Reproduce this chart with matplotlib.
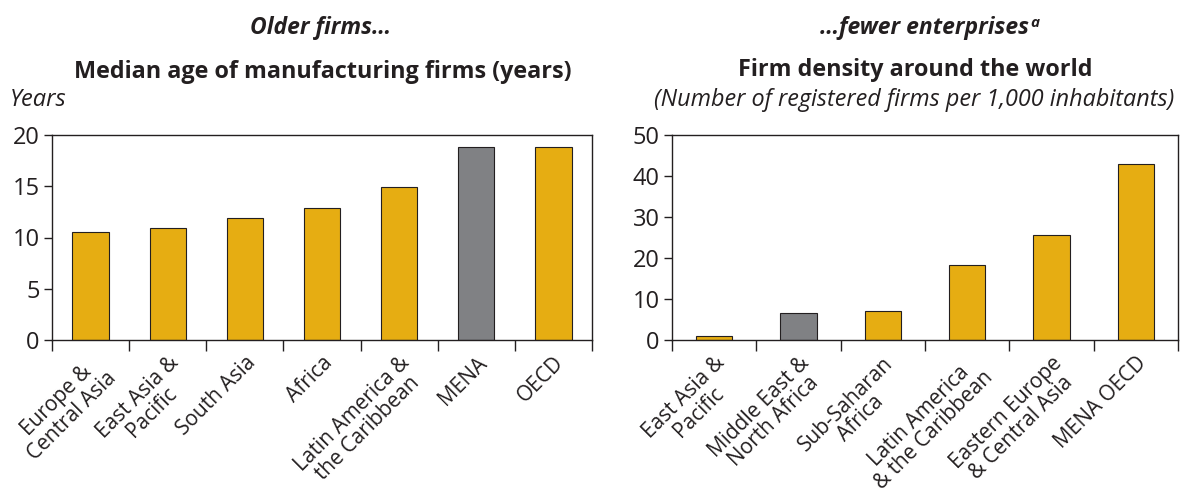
import numpy as np
import matplotlib
matplotlib.use("Agg")
import matplotlib.pyplot as plt

plt.rcParams["font.family"] = ["Open Sans", "DejaVu Sans"]

# left panel: median age of manufacturing firms
age_regions = ["Europe &\nCentral Asia", "East Asia &\nPacific", "South Asia", "Africa",
               "Latin America &\nthe Caribbean", "MENA", "OECD"]
age_years = [10.5, 10.9, 11.9, 12.9, 14.9, 18.8, 18.8]
age_highlight = [False, False, False, False, False, True, False]

# right panel: firm density
density_regions = ["East Asia &\nPacific", "Middle East &\nNorth Africa", "Sub-Saharan\nAfrica",
                   "Latin America\n& the Caribbean", "Eastern Europe\n& Central Asia", "MENA OECD"]
density_values = [1.0, 6.5, 7.0, 18.2, 25.5, 43.0]
density_highlight = [False, True, False, False, False, False]

GOLD = "#E6AD12"
GREY = "#808184"
INK = "#231F20"

W, H = 1189, 492
fig = plt.figure(figsize=(W / 100, H / 100), dpi=100)


def px_axes(x0, y0, x1, y1):
    return fig.add_axes([x0 / W, 1 - y1 / H, (x1 - x0) / W, (y1 - y0) / H])


def draw_panel(ax, labels, values, highlight, ymax, step, width):
    n = len(labels)
    x = np.arange(n)
    colors = [GREY if h else GOLD for h in highlight]
    ax.bar(x, values, width, color=colors, edgecolor=INK, linewidth=0.8, zorder=2)
    ax.set_xlim(-0.5, n - 0.5)
    ax.set_ylim(0, ymax)
    ax.set_yticks(np.arange(0, ymax + 1, step))
    ax.set_xticks(x)
    ax.set_xticklabels(labels, rotation=45, ha="right", va="top",
                       rotation_mode="anchor", fontsize=15, color=INK,
                       multialignment="center", linespacing=1.0)
    ax.set_xticks(np.arange(-0.5, n, 1.0), minor=True)
    ax.tick_params(axis="x", which="major", length=0, pad=9)
    ax.tick_params(axis="x", which="minor", length=8, width=1, color=INK, direction="out")
    ax.tick_params(axis="y", length=6, width=1, color=INK, direction="out",
                   labelsize=17, labelcolor=INK, pad=3)
    for s in ax.spines.values():
        s.set_color(INK)
        s.set_linewidth(1)


ax1 = px_axes(52, 135, 592, 340)
draw_panel(ax1, age_regions, age_years, age_highlight, 20, 5, 0.47)

ax2 = px_axes(672, 135, 1178, 340)
draw_panel(ax2, density_regions, density_values, density_highlight, 50, 10, 0.43)

fig.text(320 / W, 1 - 28 / H, "Older firms…", ha="center", va="center",
         fontsize=16.5, fontweight="bold", fontstyle="italic", color=INK)
fig.text(323 / W, 1 - 72 / H, "Median age of manufacturing firms (years)", ha="center",
         va="center", fontsize=16.8, fontweight="bold", color=INK)
fig.text(10 / W, 1 - 100 / H, "Years", ha="left", va="center",
         fontsize=17, fontstyle="italic", color=INK)

t = fig.text(925 / W, 1 - 28 / H, "…fewer enterprises", ha="center", va="center",
             fontsize=16.5, fontweight="bold", fontstyle="italic", color=INK)
ax2.annotate("a", xy=(1.0, 1.0), xycoords=t, xytext=(0.5, 0), textcoords="offset points",
             ha="left", va="top", fontsize=11, fontweight="bold", fontstyle="italic",
             color=INK, annotation_clip=False)
fig.text(915 / W, 1 - 70 / H, "Firm density around the world", ha="center", va="center",
         fontsize=16.8, fontweight="bold", color=INK)
fig.text(914 / W, 1 - 100 / H, "(Number of registered firms per 1,000 inhabitants)",
         ha="center", va="center", fontsize=16.8, fontstyle="italic", color=INK)

fig.savefig("out.png", dpi=100)
